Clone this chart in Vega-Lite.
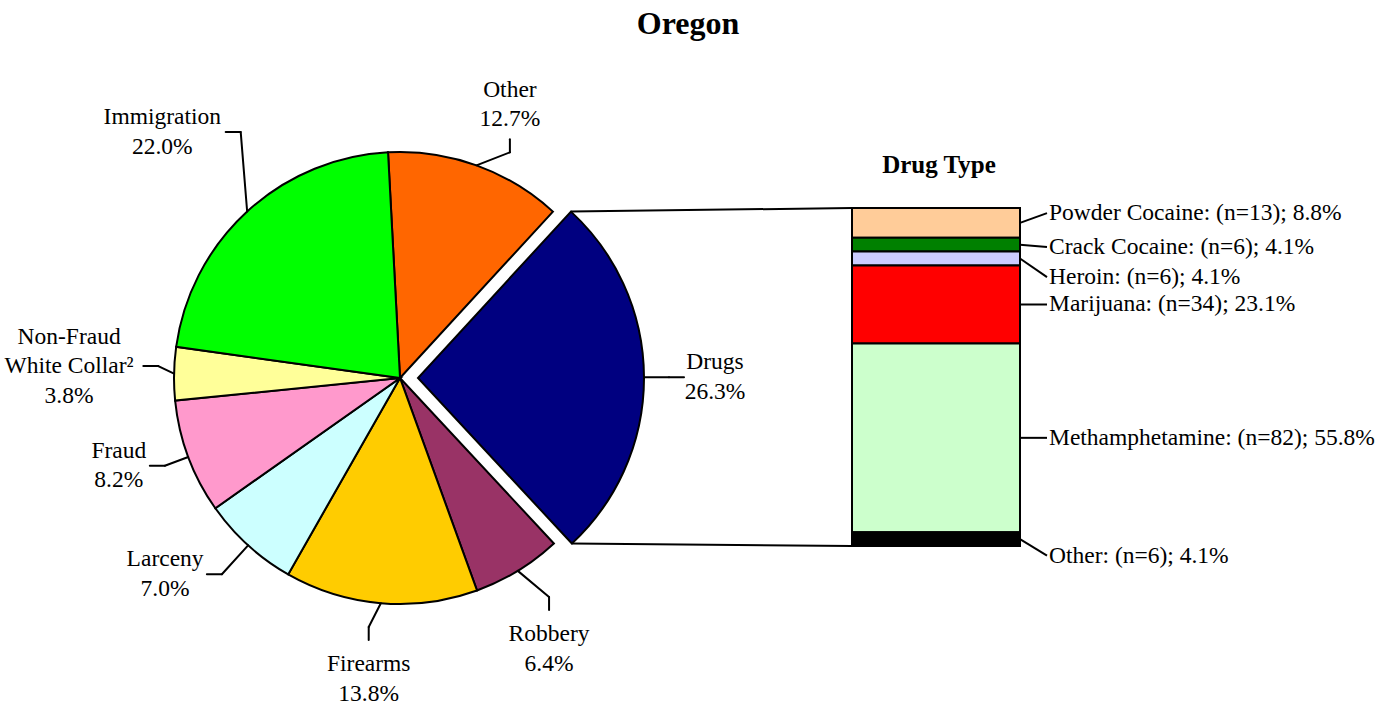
{
  "$schema": "https://vega.github.io/schema/vega-lite/v6.json",
  "width": 1398,
  "height": 656,
  "autosize": {"type": "none"},
  "padding": {"top": 50, "left": 0, "right": 0, "bottom": 0},
  "background": "white",
  "title": {"text": "Oregon", "font": "Liberation Serif", "fontSize": 32, "fontWeight": "bold", "color": "black", "anchor": "middle", "dx": -11, "offset": -16, "baseline": "alphabetic"},
  "config": {"view": {"stroke": null}, "text": {"font": "Liberation Serif"}},
  "datasets": {
    "offenses": [
      {"cat": "Other", "pct": 12.7},
      {"cat": "Drugs", "pct": 26.3},
      {"cat": "Robbery", "pct": 6.4},
      {"cat": "Firearms", "pct": 13.8},
      {"cat": "Larceny", "pct": 7.0},
      {"cat": "Fraud", "pct": 8.2},
      {"cat": "Non-Fraud White Collar²", "pct": 3.8},
      {"cat": "Immigration", "pct": 22.0}
    ],
    "drugs": [
      {"drug": "Powder Cocaine", "n": 13, "pct": 8.8},
      {"drug": "Crack Cocaine", "n": 6, "pct": 4.1},
      {"drug": "Heroin", "n": 6, "pct": 4.1},
      {"drug": "Marijuana", "n": 34, "pct": 23.1},
      {"drug": "Methamphetamine", "n": 82, "pct": 55.8},
      {"drug": "Other", "n": 6, "pct": 4.1}
    ]
  },
  "layer": [
    {
      "data": {"name": "offenses"},
      "transform": [
        {"window": [{"op": "row_number", "as": "k"}]},
        {"joinaggregate": [{"op": "sum", "field": "pct", "as": "total"}]},
        {"window": [{"op": "sum", "field": "pct", "as": "t1"}], "sort": [{"field": "k", "order": "ascending"}], "frame": [null, 0]},
        {"calculate": "-0.053 + 2 * PI * (datum.t1 - datum.pct) / datum.total", "as": "a0"},
        {"calculate": "-0.053 + 2 * PI * datum.t1 / datum.total", "as": "a1"},
        {"calculate": "(datum.a0 + datum.a1) / 2", "as": "m"},
        {"calculate": "datum.cat === 'Drugs' ? 18 : 0", "as": "boom"},
        {"calculate": "400 + datum.boom * sin(datum.m)", "as": "cx"},
        {"calculate": "378 - datum.boom * cos(datum.m)", "as": "cy"},
        {"calculate": "datum.cx + 226 * sin(datum.m)", "as": "ex"},
        {"calculate": "datum.cy - 226 * cos(datum.m)", "as": "ey"},
        {"calculate": "datum.m + (datum.cat === 'Immigration' ? 0.168 : datum.cat === 'Other' ? 0.108 : datum.cat === 'Robbery' ? -0.049 : datum.cat === 'Firearms' ? 0.04 : datum.cat === 'Non-Fraud White Collar²' ? 0.03 : 0)", "as": "mb"},
        {"calculate": "datum.cat === 'Immigration' ? 293 : (datum.cat === 'Robbery' || datum.cat === 'Larceny') ? 265 : datum.cat === 'Non-Fraud White Collar²' ? 242 : 251", "as": "rb"},
        {"calculate": "datum.cx + datum.rb * sin(datum.mb)", "as": "bx"},
        {"calculate": "datum.cy - datum.rb * cos(datum.mb)", "as": "by"},
        {"calculate": "abs(cos(datum.m)) > 0.8", "as": "vert"},
        {"calculate": "sin(datum.m) < 0 ? -1 : 1", "as": "side"},
        {"calculate": "cos(datum.m) > 0 ? -1 : 1", "as": "vside"},
        {"calculate": "datum.vert ? datum.bx : datum.bx + 15 * datum.side", "as": "tx"},
        {"calculate": "datum.vert ? datum.by + 13 * datum.vside : datum.by", "as": "ty"},
        {"calculate": "replace(datum.cat, 'Non-Fraud ', 'Non-Fraud\\n') + '\\n' + format(datum.pct, '.1f') + '%'", "as": "label"},
        {"calculate": "datum.cat === 'Non-Fraud White Collar²' ? 3 : 2", "as": "nl"},
        {"calculate": "10.8 * max(datum.nl === 3 ? 13 : length(datum.cat), 5)", "as": "w"},
        {"calculate": "datum.vert ? datum.tx : datum.tx + datum.side * (datum.w / 2 + 4)", "as": "lx"},
        {"calculate": "(datum.vert ? datum.ty + datum.vside * (datum.nl * 14.75 + (datum.vside > 0 ? 9.5 : 5.5)) : datum.ty) - (datum.nl - 1) * 14.75", "as": "ly"},
        {"calculate": "datum.cx + 226 * sin(datum.a0)", "as": "p0x"},
        {"calculate": "datum.cy - 226 * cos(datum.a0)", "as": "p0y"},
        {"calculate": "datum.cx + 226 * sin(datum.a1)", "as": "p1x"},
        {"calculate": "datum.cy - 226 * cos(datum.a1)", "as": "p1y"}
      ],
      "layer": [
        {
          "mark": {"type": "arc", "outerRadius": 226, "stroke": "black", "strokeWidth": 2},
          "encoding": {
            "x": {"datum": 400, "type": "quantitative", "scale": {"domain": [0, 1398]}, "axis": null},
            "y": {"datum": 378, "type": "quantitative", "scale": {"domain": [50, 706], "reverse": true}, "axis": null},
            "theta": {"field": "pct", "type": "quantitative", "stack": true, "scale": {"range": [-0.053, 6.2302]}},
            "order": {"field": "k", "type": "quantitative"},
            "color": {"field": "cat", "type": "nominal", "legend": null,
              "scale": {"domain": ["Other", "Drugs", "Robbery", "Firearms", "Larceny", "Fraud", "Non-Fraud White Collar²", "Immigration"],
                        "range": ["#FF6600", "#000080", "#993366", "#FFCC00", "#CCFFFF", "#FF99CC", "#FFFF99", "#00FF00"]}},
            "opacity": {"condition": {"test": "datum.cat === 'Drugs'", "value": 0}, "value": 1}
          }
        },
        {
          "mark": {"type": "arc", "outerRadius": 226, "stroke": "black", "strokeWidth": 2},
          "encoding": {
            "x": {"datum": 418, "type": "quantitative", "scale": {"domain": [0, 1398]}, "axis": null},
            "y": {"datum": 378, "type": "quantitative", "scale": {"domain": [50, 706], "reverse": true}, "axis": null},
            "theta": {"field": "pct", "type": "quantitative", "stack": true, "scale": {"range": [-0.053, 6.2302]}},
            "order": {"field": "k", "type": "quantitative"},
            "color": {"field": "cat", "type": "nominal", "legend": null},
            "opacity": {"condition": {"test": "datum.cat === 'Drugs'", "value": 1}, "value": 0}
          }
        },
        {
          "mark": {"type": "rule", "color": "black", "strokeWidth": 2, "strokeCap": "round"},
          "encoding": {
            "x": {"field": "ex", "type": "quantitative", "scale": {"domain": [0, 1398]}, "axis": null},
            "y": {"field": "ey", "type": "quantitative", "scale": {"domain": [50, 706], "reverse": true}, "axis": null},
            "x2": {"field": "bx"},
            "y2": {"field": "by"}
          }
        },
        {
          "mark": {"type": "rule", "color": "black", "strokeWidth": 2, "strokeCap": "round"},
          "encoding": {
            "x": {"field": "bx", "type": "quantitative", "scale": {"domain": [0, 1398]}, "axis": null},
            "y": {"field": "by", "type": "quantitative", "scale": {"domain": [50, 706], "reverse": true}, "axis": null},
            "x2": {"field": "tx"},
            "y2": {"field": "ty"}
          }
        },
        {
          "mark": {"type": "text", "align": "center", "baseline": "middle", "fontSize": 23.5, "lineHeight": 29.5, "lineBreak": "\n", "font": "Liberation Serif", "color": "black"},
          "encoding": {
            "x": {"field": "lx", "type": "quantitative", "scale": {"domain": [0, 1398]}, "axis": null},
            "y": {"field": "ly", "type": "quantitative", "scale": {"domain": [50, 706], "reverse": true}, "axis": null},
            "text": {"field": "label", "type": "nominal"}
          }
        },
        {
          "transform": [{"filter": "datum.cat === 'Drugs'"}],
          "mark": {"type": "rule", "color": "black", "strokeWidth": 2},
          "encoding": {
            "x": {"field": "p0x", "type": "quantitative", "scale": {"domain": [0, 1398]}, "axis": null},
            "y": {"field": "p0y", "type": "quantitative", "scale": {"domain": [50, 706], "reverse": true}, "axis": null},
            "x2": {"datum": 852},
            "y2": {"datum": 208}
          }
        },
        {
          "transform": [{"filter": "datum.cat === 'Drugs'"}],
          "mark": {"type": "rule", "color": "black", "strokeWidth": 2},
          "encoding": {
            "x": {"field": "p1x", "type": "quantitative", "scale": {"domain": [0, 1398]}, "axis": null},
            "y": {"field": "p1y", "type": "quantitative", "scale": {"domain": [50, 706], "reverse": true}, "axis": null},
            "x2": {"datum": 852},
            "y2": {"datum": 546}
          }
        }
      ]
    },
    {
      "data": {"name": "drugs"},
      "transform": [
        {"window": [{"op": "row_number", "as": "k"}]},
        {"stack": "pct", "groupby": [], "sort": [{"field": "k", "order": "descending"}], "as": ["y0", "y1"]},
        {"calculate": "(datum.y0 + datum.y1) / 2", "as": "mid"},
        {"calculate": "datum.mid + (datum.drug === 'Powder Cocaine' ? 2.9 : datum.drug === 'Crack Cocaine' ? -0.7 : datum.drug === 'Heroin' ? -5.5 : datum.drug === 'Other' ? -4.9 : 0)", "as": "ly"},
        {"calculate": "datum.drug + ': (n=' + datum.n + '); ' + format(datum.pct, '.1f') + '%'", "as": "label"}
      ],
      "layer": [
        {
          "mark": {"type": "rect", "stroke": "black", "strokeWidth": 2},
          "encoding": {
            "x": {"datum": 852, "type": "quantitative", "scale": {"domain": [0, 1398]}, "axis": null},
            "x2": {"datum": 1020},
            "y": {"field": "y0", "type": "quantitative", "scale": {"domain": [0, 100], "range": [496, 158]}, "axis": null},
            "y2": {"field": "y1"},
            "color": {"field": "drug", "type": "nominal", "legend": null,
              "scale": {"domain": ["Powder Cocaine", "Crack Cocaine", "Heroin", "Marijuana", "Methamphetamine", "Other"],
                        "range": ["#FFCC99", "#008000", "#CCCCFF", "#FF0000", "#CCFFCC", "#000000"]}}
          }
        },
        {
          "mark": {"type": "rule", "color": "black", "strokeWidth": 2},
          "encoding": {
            "x": {"datum": 1020, "type": "quantitative", "scale": {"domain": [0, 1398]}, "axis": null},
            "x2": {"datum": 1047},
            "y": {"field": "mid", "type": "quantitative", "scale": {"domain": [0, 100], "range": [496, 158]}, "axis": null},
            "y2": {"field": "ly"}
          }
        },
        {
          "mark": {"type": "text", "align": "left", "baseline": "middle", "fontSize": 23.5, "font": "Liberation Serif", "color": "black"},
          "encoding": {
            "x": {"datum": 1049, "type": "quantitative", "scale": {"domain": [0, 1398]}, "axis": null},
            "y": {"field": "ly", "type": "quantitative", "scale": {"domain": [0, 100], "range": [496, 158]}, "axis": null},
            "text": {"field": "label", "type": "nominal"}
          }
        },
        {
          "transform": [{"filter": "datum.k === 1"}],
          "mark": {"type": "text", "align": "center", "baseline": "alphabetic", "dy": -35, "fontSize": 25, "fontWeight": "bold", "font": "Liberation Serif", "color": "black"},
          "encoding": {
            "x": {"datum": 939, "type": "quantitative", "scale": {"domain": [0, 1398]}, "axis": null},
            "y": {"datum": 100, "type": "quantitative", "scale": {"domain": [0, 100], "range": [496, 158]}, "axis": null},
            "text": {"value": "Drug Type"}
          }
        }
      ]
    }
  ],
  "resolve": {"scale": {"y": "independent", "color": "independent"}}
}
